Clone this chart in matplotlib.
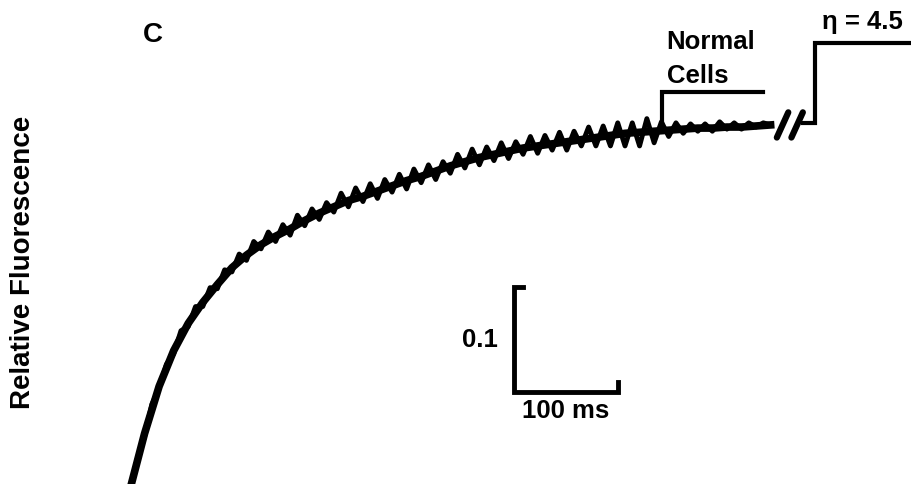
import matplotlib
matplotlib.use("Agg")
import matplotlib.pyplot as plt

plt.rcParams["font.family"] = ["Liberation Sans", "DejaVu Sans"]

# fluorescence trace, every 7 ms
sample_ms = 7
fluor = [
    -0.005, 0.024, 0.045, 0.076, 0.091, 0.114, 0.124, 0.146, 0.150, 0.169,
    0.169, 0.187, 0.186, 0.204, 0.202, 0.219, 0.213, 0.231, 0.224, 0.240,
    0.231, 0.247, 0.237, 0.256, 0.246, 0.262, 0.252, 0.268, 0.259, 0.277,
    0.264, 0.282, 0.269, 0.286, 0.272, 0.290, 0.278, 0.295, 0.281, 0.300,
    0.287, 0.304, 0.290, 0.307, 0.296, 0.314, 0.301, 0.319, 0.304, 0.321,
    0.308, 0.325, 0.310, 0.326, 0.314, 0.331, 0.315, 0.332, 0.318, 0.335,
    0.318, 0.336, 0.322, 0.340, 0.322, 0.341, 0.322, 0.344, 0.322, 0.344,
    0.322, 0.348, 0.325, 0.345, 0.331, 0.344, 0.334, 0.343, 0.336, 0.343,
    0.336, 0.345, 0.338, 0.344, 0.338, 0.344, 0.340, 0.344, 0.342,
]
time_ms = [i * sample_ms for i in range(len(fluor))]

# second (smoother) overlaid trace, every 14 ms
fit_step_ms = 14
fluor_fit = [
    -0.005, 0.048, 0.093, 0.127, 0.153, 0.173, 0.190, 0.206, 0.218, 0.228,
    0.236, 0.243, 0.251, 0.258, 0.264, 0.270, 0.274, 0.279, 0.284, 0.289,
    0.293, 0.298, 0.303, 0.307, 0.311, 0.314, 0.317, 0.320, 0.322, 0.324,
    0.326, 0.328, 0.330, 0.332, 0.334, 0.335, 0.336, 0.337, 0.338, 0.339,
    0.339, 0.340, 0.340, 0.341, 0.342,
]
fit_ms = [i * fit_step_ms for i in range(len(fluor_fit))]

# levels after the axis break
after_break_level = 0.344
normal_level = 0.373
eta_level = 0.420
normal_ms = 512
normal_end_ms = 609
break_marks_ms = [622, 636]
resume_ms = 647
step_ms = 659
end_ms = 760

# scale bar
bar_ms = 369
bar_f = 0.0876
bar_dt = 100
bar_df = 0.1

fig = plt.figure(figsize=(9.11, 4.84), dpi=100)
ax = fig.add_axes([0, 0, 1, 1])
ax.set_xlim(-125, 751)
ax.set_ylim(0, 0.461)
ax.axis("off")

lw = 3.0
ax.plot(fit_ms, fluor_fit, color="black", lw=5.5, solid_joinstyle="round")
ax.plot(time_ms, fluor, color="black", lw=3.5, solid_joinstyle="round")

# break marks //
for b in break_marks_ms:
    ax.plot([b, b + 11], [0.330, 0.354], color="black", lw=4.5, solid_capstyle="round")

# eta = 4.5 step
ax.plot([resume_ms, step_ms, step_ms, end_ms],
        [after_break_level, after_break_level, eta_level, eta_level],
        color="black", lw=lw, solid_joinstyle="miter")

# normal cells bracket
ax.plot([normal_ms, normal_ms, normal_end_ms],
        [0.337, normal_level, normal_level],
        color="black", lw=lw, solid_joinstyle="miter")

# scale bar
tick_dt = 9
tick_df = 0.0095
ax.plot([bar_ms + tick_dt, bar_ms, bar_ms, bar_ms + bar_dt, bar_ms + bar_dt],
        [bar_f + bar_df, bar_f + bar_df, bar_f, bar_f, bar_f + tick_df],
        color="black", lw=3.5, solid_joinstyle="miter")

fs = 18.5
bold = "bold"
ax.text(bar_ms - 15, bar_f + 0.050, "0.1", fontsize=fs, fontweight=bold, ha="right", va="center")
ax.text(bar_ms + bar_dt / 2, bar_f - 0.018, "100 ms", fontsize=fs, fontweight=bold, ha="center", va="center")
ax.text(516, 0.421, "Normal", fontsize=fs, fontweight=bold, ha="left", va="center")
ax.text(516, 0.389, "Cells", fontsize=fs, fontweight=bold, ha="left", va="center")
ax.text(704, 0.44, "η = 4.5", fontsize=fs, fontweight=bold, ha="center", va="center")
ax.text(22, 0.428, "C", fontsize=20, fontweight=bold, ha="center", va="center")
ax.text(-103, 0.211, "Relative Fluorescence", fontsize=20, fontweight=bold,
        rotation=90, ha="center", va="center")

fig.savefig("out.png", dpi=100)
